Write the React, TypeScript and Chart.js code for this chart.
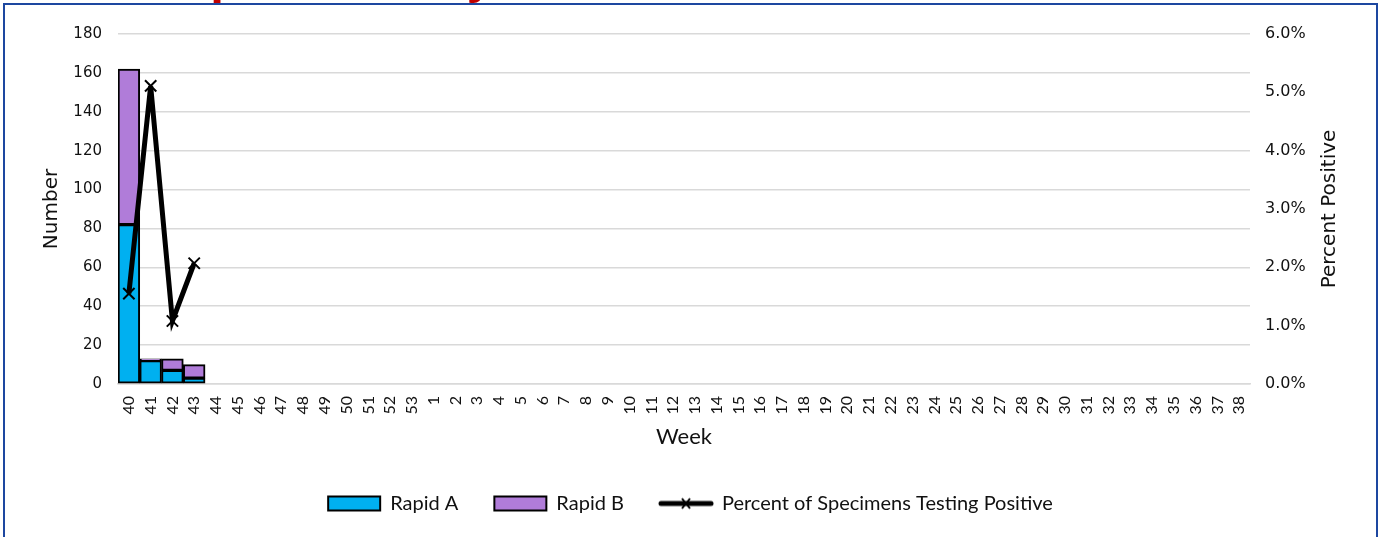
import React, { useEffect, useMemo, useRef } from 'react';
import { Chart, registerables } from 'chart.js';

Chart.register(...registerables);

// ---------- data ----------
const weekLabels = [
  '40', '41', '42', '43', '44', '45', '46', '47', '48', '49', '50', '51', '52', '53',
  '1', '2', '3', '4', '5', '6', '7', '8', '9', '10', '11', '12', '13', '14', '15', '16',
  '17', '18', '19', '20', '21', '22', '23', '24', '25', '26', '27', '28', '29', '30',
  '31', '32', '33', '34', '35', '36', '37', '38',
];
const rapidA = [82, 12, 7, 3];
const rapidB = [80, 1, 6, 7];
const percentPositive = [0.0155, 0.0511, 0.0108, 0.0207];

const seriesNames = ['Rapid A', 'Rapid B', 'Percent of Specimens Testing Positive'];
const leftAxisTitle = 'Number';
const rightAxisTitle = 'Percent Positive';
const xAxisTitle = 'Week';
const chartTitle = 'Rapid Tests by Week';

const leftMax = 180;
const leftStep = 20;
const rightMax = 0.06;
const rightStep = 0.01;

// ---------- styles ----------
const COLOR_A = '#00b0f0';
const COLOR_B = '#b07cd9';
const GRID = '#d9d9d9';
const TEXT = '#111';
const AXIS_FONT = '"DejaVu Sans", Verdana, sans-serif';
const CAL_FONT = 'Lato, "Open Sans", sans-serif';

function makeLineLegendImage(): HTMLCanvasElement {
  const c = document.createElement('canvas');
  c.width = 56;
  c.height = 16;
  const g = c.getContext('2d')!;
  g.strokeStyle = '#000';
  g.lineWidth = 5;
  g.lineCap = 'round';
  g.beginPath();
  g.moveTo(3, 8);
  g.lineTo(53, 8);
  g.stroke();
  g.lineWidth = 2;
  g.lineCap = 'butt';
  g.beginPath();
  g.moveTo(24, 3);
  g.lineTo(32, 13);
  g.moveTo(32, 3);
  g.lineTo(24, 13);
  g.stroke();
  return c;
}

const rightTitlePlugin = {
  id: 'rightTitle',
  afterDraw(chart: any) {
    const ctx = chart.ctx as CanvasRenderingContext2D;
    const area = chart.chartArea;
    ctx.save();
    ctx.font = `20px ${AXIS_FONT}`;
    ctx.fillStyle = TEXT;
    ctx.textAlign = 'center';
    ctx.textBaseline = 'middle';
    ctx.translate(area.right + 80, (area.top + area.bottom) / 2);
    ctx.rotate(-Math.PI / 2);
    ctx.fillText(rightAxisTitle, 0, 0);
    ctx.restore();
  },
};

function useTitleLayout() {
  return useMemo(() => {
    const ctx = document.createElement('canvas').getContext('2d')!;
    const base = 100;
    ctx.font = `bold ${base}px "Liberation Sans"`;
    const iP = chartTitle.indexOf('p');
    const iY = chartTitle.lastIndexOf('y');
    const pStem = ctx.measureText(chartTitle.slice(0, iP)).width + 0.135 * base;
    const yTail = ctx.measureText(chartTitle.slice(0, iY)).width + 0.27 * base;
    const size = (base * (480 - 217)) / (yTail - pStem);
    const left = 217 - (pStem * size) / base;
    const top = -7.5 - 0.8465 * size;
    return { size, left, top };
  }, []);
}

export default function App() {
  const canvasRef = useRef<HTMLCanvasElement | null>(null);
  const title = useTitleLayout();

  useEffect(() => {
    document.body.style.margin = '0';
    const canvas = canvasRef.current;
    if (!canvas) return;
    const lineImg = makeLineLegendImage();

    const chart = new Chart(canvas, {
      type: 'bar',
      data: {
        labels: weekLabels,
        datasets: [
          {
            type: 'bar',
            label: seriesNames[0],
            data: rapidA,
            backgroundColor: COLOR_A,
            borderColor: '#000',
            borderWidth: 2,
            borderSkipped: false,
            barPercentage: 1,
            categoryPercentage: 1,
            yAxisID: 'y',
            order: 1,
          },
          {
            type: 'bar',
            label: seriesNames[1],
            data: rapidB,
            backgroundColor: COLOR_B,
            borderColor: '#000',
            borderWidth: 2,
            borderSkipped: false,
            barPercentage: 1,
            categoryPercentage: 1,
            yAxisID: 'y',
            order: 1,
          },
          {
            type: 'line',
            label: seriesNames[2],
            data: percentPositive,
            borderColor: '#000',
            backgroundColor: '#000',
            borderWidth: 5,
            pointStyle: 'crossRot',
            pointRadius: 8,
            pointBorderWidth: 2,
            pointBorderColor: '#000',
            fill: false,
            tension: 0,
            yAxisID: 'y1',
            order: 0,
          } as any,
        ],
      },
      options: {
        responsive: false,
        maintainAspectRatio: false,
        animation: false,
        events: [],
        layout: { padding: { top: 28, left: 0, right: 0, bottom: 13.5 } },
        plugins: {
          tooltip: { enabled: false },
          title: { display: false },
          legend: {
            display: true,
            position: 'bottom',
            labels: {
              usePointStyle: true,
              pointStyleWidth: 52,
              boxHeight: 14,
              padding: 36,
              color: TEXT,
              font: { family: CAL_FONT, size: 20 },
              generateLabels: () => [
                {
                  text: seriesNames[0],
                  fillStyle: COLOR_A,
                  strokeStyle: '#000',
                  lineWidth: 2,
                  pointStyle: 'rect',
                  hidden: false,
                  datasetIndex: 0,
                  fontColor: TEXT,
                },
                {
                  text: seriesNames[1],
                  fillStyle: COLOR_B,
                  strokeStyle: '#000',
                  lineWidth: 2,
                  pointStyle: 'rect',
                  hidden: false,
                  datasetIndex: 1,
                  fontColor: TEXT,
                },
                {
                  text: seriesNames[2],
                  fillStyle: '#000',
                  strokeStyle: '#000',
                  lineWidth: 0,
                  pointStyle: lineImg as any,
                  hidden: false,
                  datasetIndex: 2,
                  fontColor: TEXT,
                },
              ],
            },
          },
        },
        scales: {
          x: {
            type: 'category',
            stacked: true,
            offset: true,
            grid: { display: false },
            border: { display: true, color: GRID, width: 1.5 },
            ticks: {
              autoSkip: false,
              minRotation: 90,
              maxRotation: 90,
              padding: 4,
              color: TEXT,
              font: { family: CAL_FONT, size: 16 },
            },
            title: {
              display: true,
              text: xAxisTitle,
              color: TEXT,
              font: { family: CAL_FONT, size: 22 },
              padding: { top: 0, bottom: 7 },
            },
            afterFit: (scale: any) => {
              scale.height = 73.5;
            },
          },
          y: {
            type: 'linear',
            position: 'left',
            stacked: true,
            min: 0,
            max: leftMax,
            grid: { color: GRID, lineWidth: 1.5, drawTicks: false },
            border: { display: false },
            ticks: {
              stepSize: leftStep,
              padding: 16,
              color: TEXT,
              font: { family: AXIS_FONT, size: 15 },
            },
            title: {
              display: true,
              text: leftAxisTitle,
              color: TEXT,
              font: { family: AXIS_FONT, size: 20 },
              padding: { top: 35, bottom: 0 },
            },
            afterFit: (scale: any) => {
              scale.width = 113;
            },
          },
          y1: {
            type: 'linear',
            position: 'right',
            min: 0,
            max: rightMax,
            grid: { display: false, drawTicks: false },
            border: { display: false },
            ticks: {
              stepSize: rightStep,
              padding: 15,
              color: TEXT,
              font: { family: AXIS_FONT, size: 16 },
              callback: (v: any) => (Number(v) * 100).toFixed(1) + '%',
            },
            afterFit: (scale: any) => {
              scale.width = 126;
            },
          },
        },
      },
      plugins: [rightTitlePlugin],
    });

    return () => chart.destroy();
  }, []);

  return (
    <div>
      <div
        style={{
          position: 'absolute',
          left: title.left,
          top: title.top,
          fontFamily: '"Liberation Sans", Arial, sans-serif',
          fontWeight: 'bold',
          fontSize: title.size,
          lineHeight: `${title.size}px`,
          color: '#c00000',
          whiteSpace: 'nowrap',
          zIndex: 0,
        }}
      >
        {chartTitle}
      </div>
      <div
        style={{
          position: 'absolute',
          left: 3,
          top: 3,
          width: 1375,
          height: 600,
          boxSizing: 'border-box',
          border: '2.5px solid #1d47a0',
          background: '#fff',
          zIndex: 1,
        }}
      />
      <canvas
        ref={canvasRef}
        width={1371}
        height={531}
        style={{ position: 'absolute', left: 5, top: 6, width: 1371, height: 531, zIndex: 2 }}
      />
    </div>
  );
}
